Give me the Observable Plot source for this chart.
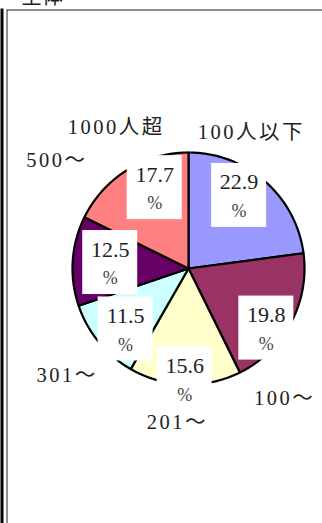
<!DOCTYPE html>
<html>
<head>
<meta charset="utf-8">
<script src="https://cdn.jsdelivr.net/npm/d3@7"></script>
<script src="https://cdn.jsdelivr.net/npm/@observablehq/plot@0.6"></script>
<style>
  html, body { margin: 0; padding: 0; background: #fff; overflow: hidden; }
</style>
</head>
<body>
<div id="chart"></div>
<script>
// Company size breakdown (share of respondents, %)
const title = "全体";
const categories = ["100人以下", "100〜", "201〜", "301〜", "500〜", "1000人超"];
const shares = [22.9, 19.8, 15.6, 11.5, 12.5, 17.7];
const unitLabel = "%";

// Palette, one colour per category in order
const palette = ["#9999ff", "#993366", "#ffffcc", "#ccffff", "#660066", "#ff8080"];

// Geometry of the pie on the page
const W = 322, H = 523;
const cx = 188, cy = 268, R = 116;       // centre and radius in pixels
const px = v => v / R;                    // pixels -> data units

// Label placement tweaks (pixels), relative to the radial anchor of each slice
const valueAnchor = 0.78, nameAnchor = 1.2;
const valueNudge = {
  "100人以下": [-9, -5], "100〜": [-2, 17], "201〜": [-1, 20],
  "301〜": [7, 3], "500〜": [12, 0], "1000人超": [14, -4]
};
const nameNudge = {
  "100人以下": [-30, -31], "100〜": [-28, 64], "201〜": [-8, 15],
  "301〜": [-15, 19], "500〜": [6, -99], "1000人超": [0, -23]
};
const boxW = 55, boxH = 64;

const rows = categories.map((cat, i) => ({cat, share: shares[i]}));

// Slices start at 12 o'clock and run clockwise
const arcs = d3.pie().sort(null).value(d => d.share)(rows);

const slicePoints = arcs.flatMap(a => {
  const cat = a.data.cat;
  const n = Math.max(2, Math.ceil((a.endAngle - a.startAngle) / (Math.PI / 180)));
  const pts = [{cat, x: 0, y: 0}];
  for (let i = 0; i <= n; i++) {
    const t = a.startAngle + (a.endAngle - a.startAngle) * i / n;
    pts.push({cat, x: Math.sin(t), y: Math.cos(t)});
  }
  pts.push({cat, x: 0, y: 0});
  return pts;
});

const labels = arcs.map(a => {
  const cat = a.data.cat;
  const mid = (a.startAngle + a.endAngle) / 2;
  const [vx, vy] = valueNudge[cat];
  const [nx, ny] = nameNudge[cat];
  return {
    cat,
    share: a.data.share,
    vx: valueAnchor * Math.sin(mid) + px(vx),
    vy: valueAnchor * Math.cos(mid) - px(vy),
    nx: nameAnchor * Math.sin(mid) + px(nx),
    ny: nameAnchor * Math.cos(mid) - px(ny)
  };
});

const serif = '"Liberation Serif", "Noto Sans CJK JP", serif';

const chart = Plot.plot({
  width: W,
  height: H,
  marginLeft: 6.5,
  marginTop: 9.5,
  marginRight: -20,
  marginBottom: -20,
  style: {background: "#fff", fontFamily: serif},
  x: {domain: [-1, 1], range: [cx - R, cx + R], axis: null},
  y: {domain: [-1, 1], range: [cy + R, cy - R], axis: null},
  color: {domain: categories, range: palette},
  marks: [
    Plot.frame({stroke: "#222", strokeWidth: 1}),
    Plot.frame({anchor: "left", stroke: "#000", strokeWidth: 3, insetLeft: -5}),
    Plot.text([title], {
      frameAnchor: "top-left", dx: 14, dy: -7, lineAnchor: "bottom", textAnchor: "start",
      fontSize: 21, fill: "#222", fontFamily: '"Noto Sans CJK JP", sans-serif'
    }),
    Plot.line(slicePoints, {
      x: "x", y: "y", z: "cat", fill: "cat",
      stroke: "#000", strokeWidth: 2.2, strokeLinejoin: "round"
    }),
    Plot.rect(labels, {
      x1: d => d.vx - px(boxW / 2), x2: d => d.vx + px(boxW / 2),
      y1: d => d.vy - px(boxH / 2), y2: d => d.vy + px(boxH / 2),
      fill: "#fff"
    }),
    Plot.text(labels, {
      x: "vx", y: "vy", text: d => d.share.toFixed(1), dy: -13,
      fontSize: 22, fill: "#222", fontFamily: serif
    }),
    Plot.text(labels, {
      x: "vx", y: "vy", text: () => unitLabel, dy: 16,
      fontSize: 18, fill: "#444", fontFamily: serif
    }),
    Plot.text(labels, {
      x: "nx", y: "ny", text: "cat",
      fontSize: 20.5, fill: "#222", fontFamily: serif
    })
  ]
});

// Category names are set a little wider, as in a Mincho face
d3.select(chart).selectAll("text")
  .filter(function() { return categories.includes(this.textContent); })
  .attr("letter-spacing", 2.5)
  .attr("dx", 1.25);

document.getElementById("chart").appendChild(chart);
</script>
</body>
</html>
